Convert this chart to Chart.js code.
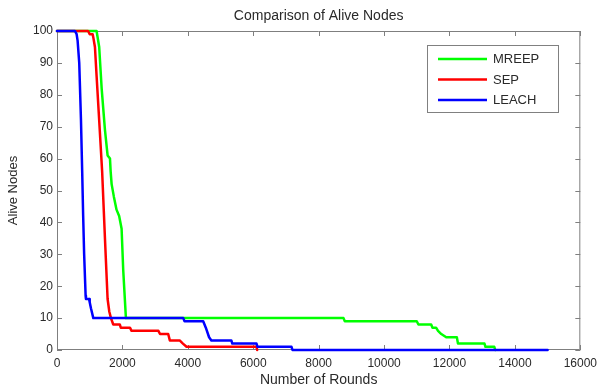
<!DOCTYPE html>
<html>
<head>
<meta charset="utf-8">
<script src="https://cdn.jsdelivr.net/npm/chart.js@4"></script>
<style>
  html, body { margin: 0; padding: 0; background: #ffffff; }
  #wrap { width: 603px; height: 390px; }
</style>
</head>
<body>
<div id="wrap"><canvas id="c" width="603" height="390"></canvas></div>
<script>
// ---- data ----
const chartTitle = "Comparison of Alive Nodes";
const xTitle = "Number of Rounds";
const yTitle = "Alive Nodes";
const seriesNames = ["MREEP", "SEP", "LEACH"];

const mreepRounds = [0,1210,1290,1365,1466,1547,1620,1640,1670,1740,1820,1900,1975,2025,2107,8760,8800,11000,11050,11440,11480,11590,11650,11750,11900,12225,12260,13070,13100,13370,13400];
const mreepAlive  = [100,100,95,82,69,61,60,56,52,48,44,42,38,25,10,10,9,9,8,8,7,7,6,5,4,4,2,2,1,1,0];

const sepRounds = [0,950,1000,1090,1110,1160,1210,1290,1380,1466,1547,1600,1650,1720,1920,1950,2230,2280,3100,3150,3400,3450,3750,3850,3960,6100,6120];
const sepAlive  = [100,100,99,99,98,95,86,72,56,35,16,12,10,8,8,7,7,6,6,5,5,3,3,2,1,1,0];

const leachRounds = [0,550,600,630,680,733,770,800,830,875,885,980,1000,1040,1110,3860,3900,4470,4550,4650,4720,5330,5360,6100,6130,7170,7200,15000];
const leachAlive  = [100,100,99,97,90,72,56,42,30,17,16,16,15,13,10,10,9,9,7,4,3,3,2,2,1,1,0,0];

const xTicks = [0,2000,4000,6000,8000,10000,12000,14000,16000];
const yTicks = [0,10,20,30,40,50,60,70,80,90,100];

const colors = ["#00ff00", "#ff0000", "#0000ff"];

function pts(xs, ys) { return xs.map((x, i) => ({ x: x, y: ys[i] })); }

const FONT = "'Liberation Sans', Arial, Helvetica, sans-serif";
const TEXT = "#2a2a2a";
const FRAME = "#7f7f7f";

const matlabPlugin = {
  id: 'matlabFrame',
  beforeDatasetsDraw(chart) {
    const { ctx, chartArea: a, scales } = chart;
    ctx.save();
    ctx.strokeStyle = FRAME;
    ctx.lineWidth = 1;
    ctx.beginPath();
    ctx.rect(a.left + 0.5, a.top + 0.5, a.right - a.left - 1, a.bottom - a.top - 1);
    ctx.stroke();
    const tl = 5;
    ctx.beginPath();
    xTicks.forEach(v => {
      const x = Math.round(scales.x.getPixelForValue(v)) + 0.5;
      ctx.moveTo(x, a.bottom); ctx.lineTo(x, a.bottom - tl);
      ctx.moveTo(x, a.top); ctx.lineTo(x, a.top + tl);
    });
    yTicks.forEach(v => {
      const y = Math.round(scales.y.getPixelForValue(v)) + 0.5;
      ctx.moveTo(a.left, y); ctx.lineTo(a.left + tl, y);
      ctx.moveTo(a.right, y); ctx.lineTo(a.right - tl, y);
    });
    ctx.stroke();
    ctx.restore();
  },
  afterDraw(chart) {
    const { ctx, chartArea: a } = chart;
    ctx.save();
    // title
    ctx.fillStyle = TEXT;
    ctx.font = "14px " + FONT;
    ctx.textAlign = "center";
    ctx.textBaseline = "middle";
    ctx.fillText(chartTitle, (a.left + a.right) / 2, 16);
    // legend
    const bx = 427.5, by = 45.5, bw = 131, bh = 67;
    ctx.fillStyle = "#ffffff";
    ctx.fillRect(bx, by, bw, bh);
    ctx.strokeStyle = "#808080";
    ctx.lineWidth = 1;
    ctx.strokeRect(bx, by, bw, bh);
    ctx.font = "13px " + FONT;
    ctx.textAlign = "left";
    ctx.textBaseline = "middle";
    chart.data.datasets.forEach((ds, i) => {
      const y = 59 + i * 20.5;
      ctx.strokeStyle = ds.borderColor;
      ctx.lineWidth = 2.5;
      ctx.beginPath();
      ctx.moveTo(438, y); ctx.lineTo(487, y);
      ctx.stroke();
      ctx.fillStyle = TEXT;
      ctx.fillText(ds.label, 493, y + 0.5);
    });
    ctx.restore();
  }
};

const datasets = [
  { label: seriesNames[0], data: pts(mreepRounds, mreepAlive), borderColor: colors[0], order: 3 },
  { label: seriesNames[1], data: pts(sepRounds, sepAlive), borderColor: colors[1], order: 2 },
  { label: seriesNames[2], data: pts(leachRounds, leachAlive), borderColor: colors[2], order: 1 }
].map(d => Object.assign(d, {
  showLine: true, pointRadius: 0, pointHoverRadius: 0, borderWidth: 2.5,
  tension: 0, fill: false, clip: 6, backgroundColor: d.borderColor,
  borderJoinStyle: 'round', borderCapStyle: 'round'
}));

new Chart(document.getElementById('c'), {
  type: 'scatter',
  data: { datasets: datasets },
  options: {
    responsive: false,
    animation: false,
    events: [],
    layout: { padding: { top: 31, right: 22, left: 0, bottom: 0 } },
    plugins: {
      legend: { display: false },
      title: { display: false },
      tooltip: { enabled: false }
    },
    scales: {
      x: {
        type: 'linear', min: 0, max: 16000,
        afterBuildTicks: s => { s.ticks = xTicks.map(v => ({ value: v })); },
        afterFit: s => { s.height = 40; },
        grid: { display: false, drawTicks: false },
        border: { display: false },
        ticks: { color: TEXT, font: { family: FONT, size: 12 }, padding: 6, maxRotation: 0, autoSkip: false,
                 callback: v => String(v) },
        title: { display: true, text: xTitle, color: TEXT, font: { family: FONT, size: 14 }, padding: { top: 0, bottom: 1 } }
      },
      y: {
        type: 'linear', min: 0, max: 100,
        afterBuildTicks: s => { s.ticks = yTicks.map(v => ({ value: v })); },
        afterFit: s => { s.width = 57; },
        grid: { display: false, drawTicks: false },
        border: { display: false },
        ticks: { color: TEXT, font: { family: FONT, size: 12 }, padding: 4, autoSkip: false,
                 callback: v => String(v) },
        title: { display: true, text: yTitle, color: TEXT, font: { family: FONT, size: 13 }, padding: { top: 6, bottom: 0 } }
      }
    }
  },
  plugins: [matlabPlugin]
});
</script>
</body>
</html>
